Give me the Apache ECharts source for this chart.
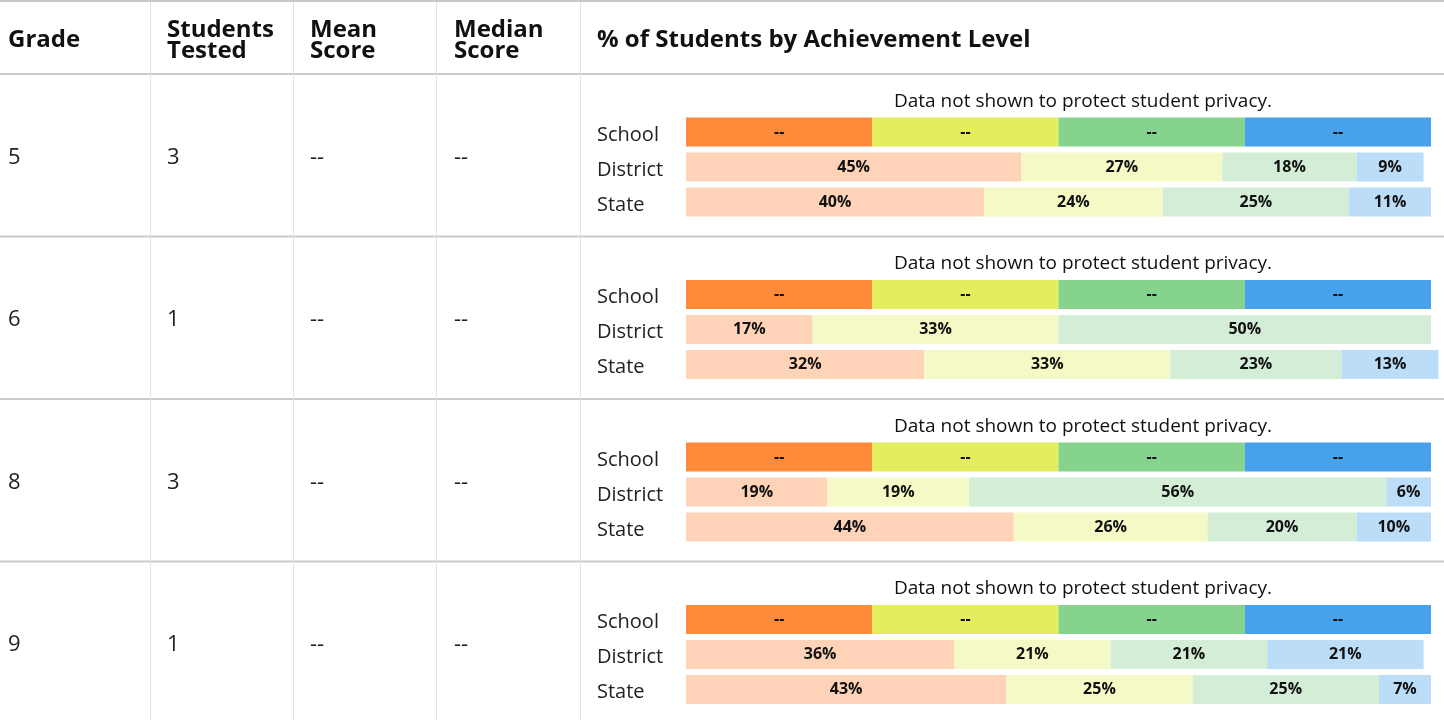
<!DOCTYPE html>
<html>
<head>
<meta charset="utf-8">
<script src="https://cdn.jsdelivr.net/npm/echarts@6/dist/echarts.min.js"></script>
<style>
html,body{margin:0;padding:0;background:#fff;}
#chart{width:1444px;height:720px;}
</style>
</head>
<body>
<div id="chart"></div>
<script>
// ---- data ----
var headers = ['Grade', 'Students\nTested', 'Mean\nScore', 'Median\nScore', '% of Students by Achievement Level'];
var grades = ['5', '6', '8', '9'];
var studentsTested = ['3', '1', '3', '1'];
var meanScore = ['--', '--', '--', '--'];
var medianScore = ['--', '--', '--', '--'];
var groups = ['School', 'District', 'State'];
var privacyNote = 'Data not shown to protect student privacy.';
// school values suppressed: equal quarters labelled "--"
var schoolShare = [25, 25, 25, 25];
var schoolLabel = '--';
var district = [
  [45, 27, 18, 9],
  [17, 33, 50, 0],
  [19, 19, 56, 6],
  [36, 21, 21, 21]
];
var state = [
  [40, 24, 25, 11],
  [32, 33, 23, 13],
  [44, 26, 20, 10],
  [43, 25, 25, 7]
];
var schoolColors = ['#FF8A3A', '#E4ED5D', '#85D38C', '#47A2EB'];
var lightColors = ['#FFD3B7', '#F4F9C5', '#D4EDD7', '#BCDDF8'];

// ---- layout ----
var FONT = '"Open Sans", "Noto Sans", sans-serif';
var colX = [8, 167, 310, 454, 597];
var vLines = [150, 293, 436, 580];
var rowTop0 = 74, rowH = 162.5;
var barLeft = 686, barRight = 13;

var chart = echarts.init(document.getElementById('chart'));

var grids = [], xAxes = [], yAxes = [], series = [], graphics = [];

// table lines
graphics.push({type:'line', shape:{x1:0,y1:1,x2:1444,y2:1}, style:{stroke:'#c8c8c8', lineWidth:2}, z:1});
for (var r = 0; r < grades.length; r++) {
  var yl = rowTop0 + rowH * r;
  graphics.push({type:'line', shape:{x1:0,y1:yl,x2:1444,y2:yl}, style:{stroke:'#cacaca', lineWidth:2}, z:1});
}
vLines.forEach(function(x){
  graphics.push({type:'line', shape:{x1:x+0.5,y1:2,x2:x+0.5,y2:720}, style:{stroke:'#e3e3e3', lineWidth:1}, z:1});
});

// headers
headers.forEach(function(h, i){
  graphics.push({type:'text', x: colX[i], y: 40.5, z:5,
    style:{text:h, font:'bold 24px ' + FONT, fill:'#111', textAlign:'left', textVerticalAlign:'middle', lineHeight:21}});
});

grades.forEach(function(g, i){
  var base = rowH * i;
  var cells = [g, studentsTested[i], meanScore[i], medianScore[i]];
  cells.forEach(function(c, j){
    graphics.push({type:'text', x: colX[j], y: 157.5 + base, z:5,
      style:{text:c, font:'22px ' + FONT, fill:'#222', textAlign:'left', textVerticalAlign:'middle'}});
  });
  graphics.push({type:'text', x: 1083, y: 101.5 + base, z:5,
    style:{text:privacyNote, font:'19px ' + FONT, fill:'#111', textAlign:'center', textVerticalAlign:'middle'}});

  grids.push({left: barLeft, right: barRight, top: 114.5 + base, height: 105, containLabel:false});
  xAxes.push({type:'value', gridIndex:i, min:0, max:100, show:false});
  yAxes.push({type:'category', gridIndex:i, data:groups, inverse:true,
    axisLine:{show:false}, axisTick:{show:false}, splitLine:{show:false},
    axisLabel:{show:true, margin:89, align:'left', formatter:'{a|{value}}',
      rich:{a:{fontFamily:FONT, fontSize:20, color:'#222', padding:[6,0,0,0]}}}});

  for (var k = 0; k < 4; k++) {
    series.push({
      type:'bar', stack:'s'+i, xAxisIndex:i, yAxisIndex:i, barWidth:29, clip:false,
      data:[
        {value: schoolShare[k], itemStyle:{color:schoolColors[k]}, label:{formatter: schoolLabel}},
        {value: district[i][k], itemStyle:{color:lightColors[k]}},
        {value: state[i][k], itemStyle:{color:lightColors[k]}}
      ],
      label:{show:true, position:'inside', fontFamily:FONT, fontWeight:'bold', fontSize:16, color:'#111',
        formatter:function(p){ return p.value ? p.value + '%' : ''; }},
      animation:false
    });
  }
});

chart.setOption({
  animation:false,
  backgroundColor:'#fff',
  grid: grids,
  xAxis: xAxes,
  yAxis: yAxes,
  series: series,
  graphic: graphics
});
</script>
</body>
</html>
